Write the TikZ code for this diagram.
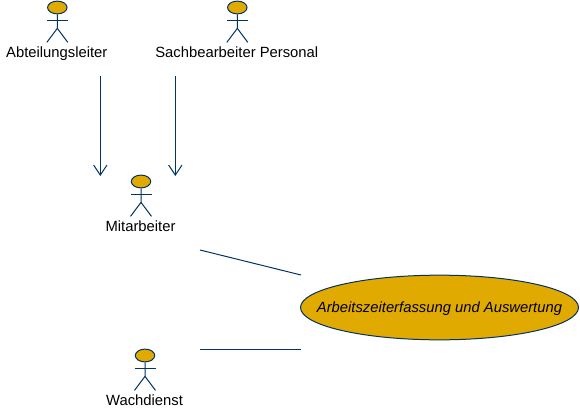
\documentclass[tikz,border=0pt]{standalone}
\usepackage{fontspec}
\setmainfont{Liberation Sans}
\usetikzlibrary{shapes.geometric,arrows.meta}
\definecolor{umlblue}{HTML}{003366}
\definecolor{umlgold}{HTML}{E0AA00}
\tikzset{
	umlline/.style={draw=umlblue,line width=0.75pt},
	actorhead/.style={ellipse,umlline,fill=umlgold,minimum width=14.6pt,minimum height=9.6pt,inner sep=0pt},
	actorname/.style={font=\fontsize{11.1pt}{13pt}\selectfont,inner sep=0pt,anchor=base},
	usecase/.style={ellipse,umlline,fill=umlgold,minimum width=208.5pt,minimum height=48.5pt,inner sep=0pt},
	usecasename/.style={font=\fontsize{11.1pt}{13pt}\selectfont\itshape,inner sep=0pt,anchor=base},
	inherit/.style={umlline,-{Straight Barb[length=7.5pt,width=10pt,line width=0.75pt]}}
}
\begin{document}
\begin{tikzpicture}[x=0.75pt,y=-0.75pt]
	\useasboundingbox (0,0) rectangle (580,410);
	% actors: x of the figure, y of the head, baseline of the name, name
	\foreach \x/\t/\l/\name [count=\n] in {57.3/7.5/57/Abteilungsleiter,237.3/7.5/57/Sachbearbeiter Personal,141/181.5/231/Mitarbeiter,145/355.5/405/Wachdienst} {
		\node[actorhead](H\n) at (\x,\t){};
		\draw[umlline] (H\n.south) -- ++(0,14) coordinate (hip\n) -- ++(-10.5,14);
		\draw[umlline] (hip\n) -- ++(10.5,14);
		\draw[umlline] (H\n.south) ++(-10.5,6) -- ++(21,0);
		\node[actorname](N\n) at (\x-0.5,\l){\name};
	}
	\node[usecase](U) at (439.5,307.5){};
	\node[usecasename](T) at (439.5,312){Arbeitszeiterfassung und Auswertung};

	\coordinate (a1) at (100.3,76);
	\coordinate (a2) at (100.3,176);
	\coordinate (b1) at (175.3,76);
	\coordinate (b2) at (175.3,176);
	\coordinate (c1) at (200,250);
	\coordinate (c2) at (301,275);
	\coordinate (d1) at (200,349.5);
	\coordinate (d2) at (301,349.5);

	\draw[inherit] (a1) -- (a2);
	\draw[inherit] (b1) -- (b2);
	\draw[umlline] (c1) -- (c2);
	\draw[umlline] (d1) -- (d2);
\end{tikzpicture}
\end{document}
